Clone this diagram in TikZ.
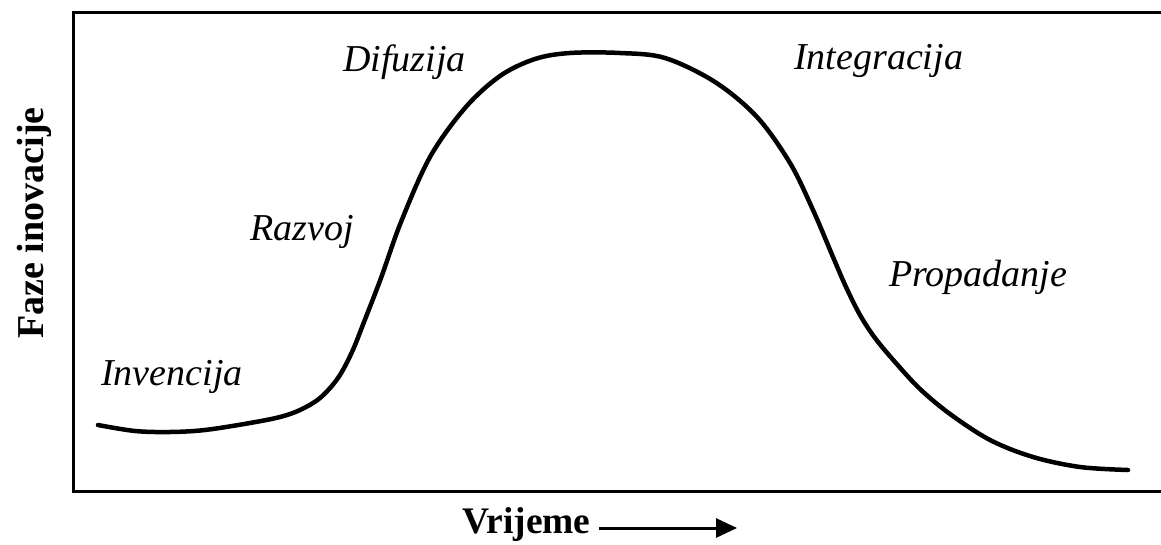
\documentclass[tikz,border=0pt]{standalone}
\usepackage{fontspec}
\setmainfont{Liberation Serif}
\usetikzlibrary{arrows.meta}
\begin{document}
\begin{tikzpicture}[x=1pt,y=-1pt,
  phase/.style={anchor=base west,inner sep=0pt,font=\fontsize{38}{42}\selectfont\itshape},
  axislabel/.style={inner sep=0pt,font=\fontsize{38}{42}\selectfont\bfseries},
  frame/.style={line width=3pt},
  curve/.style={line width=4.5pt,line cap=round,line join=round}]
\useasboundingbox (0,0) rectangle (1161,545);
% frame (right side lies beyond the picture)
\draw[frame] (1161,13) -- (73,13) -- (73,491) -- (1161,491);
% curve
\draw[curve] plot[smooth,tension=0.55] coordinates {
 (98,425) (135,431) (170,432) (205,430) (250,423) (280,417) (300,410)
 (320,398) (338,378) (352,352) (364,322) (381,278) (401,222) (430,157)
 (465,108) (500,76) (535,59) (570,53) (620,53) (665,58) (715,82)
 (757,117) (790,163) (813,210) (833,257) (846,287) (860,315) (875,338)
 (895,362) (920,389) (950,414) (990,440) (1033,457) (1080,467) (1128,470)};
% phase labels
\node[phase] (inv) at (101,385) {Invencija};
\node[phase] (raz) at (250,241) {Razvoj};
\node[phase] (dif) at (343,72) {Difuzija};
\node[phase] (int) at (794,70) {Integracija};
\node[phase] (pro) at (889,287) {Propadanje};
% axis labels
\node[axislabel,rotate=90,anchor=base] (yl) at (43,223) {Faze inovacije};
\node[axislabel,anchor=base west,font=\fontsize{37.5}{42}\selectfont\bfseries] (xl) at (462,533) {Vrijeme};
\coordinate (tip) at (737,528);
\draw[line width=3pt,-{Triangle[length=21pt,width=19pt]}] ([xshift=8pt]xl.east |- tip) -- (tip);
\end{tikzpicture}
\end{document}
